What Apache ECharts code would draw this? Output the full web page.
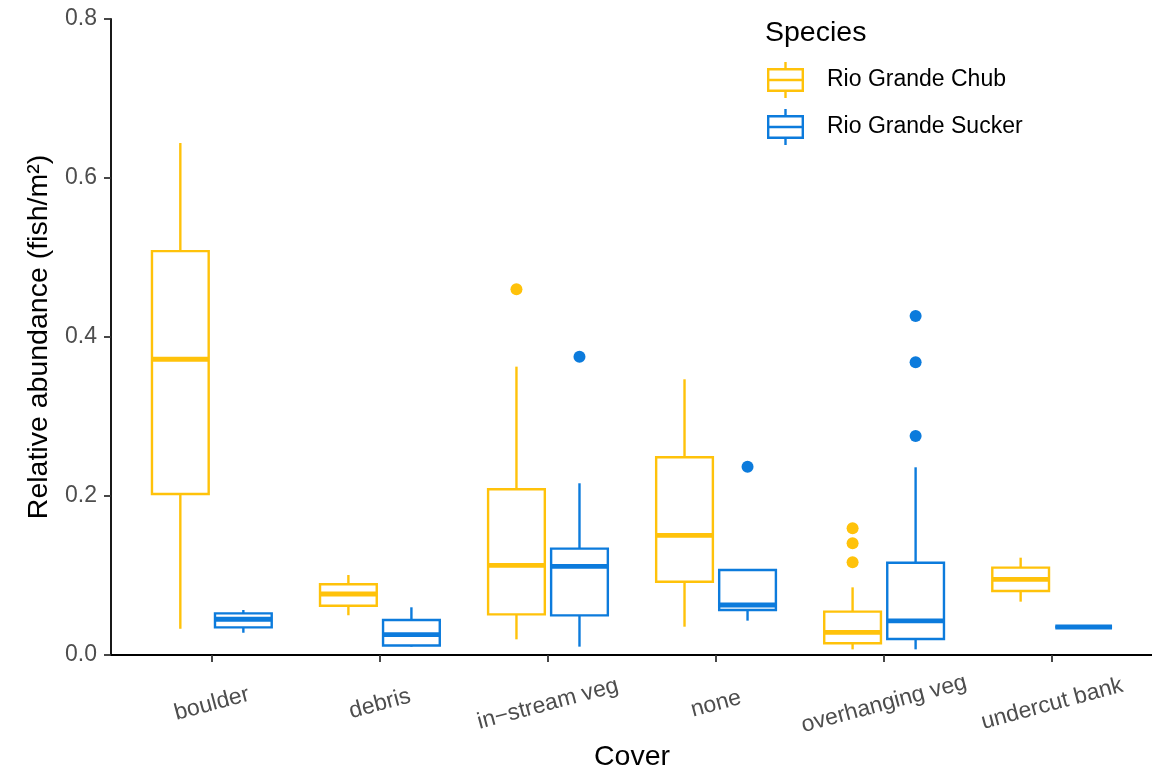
<!DOCTYPE html>
<html>
<head>
<meta charset="utf-8">
<script src="https://cdn.jsdelivr.net/npm/echarts@6/dist/echarts.min.js"></script>
<style>html,body{margin:0;padding:0;background:#fff}#chart{width:1152px;height:772px}</style>
</head>
<body>
<div id="chart"></div>
<script>
// ---- data ----
const categories = ['boulder', 'debris', 'in\u2212stream veg', 'none', 'overhanging veg', 'undercut bank'];
const seriesNames = ['Rio Grande Chub', 'Rio Grande Sucker'];
const yTicks = [0, 0.2, 0.4, 0.6, 0.8];
// [lower whisker, Q1, median, Q3, upper whisker]
const chubStats = [
  [0.033, 0.2025, 0.372, 0.508, 0.644],
  [0.050, 0.062, 0.0767, 0.089, 0.1006],
  [0.0197, 0.0511, 0.1128, 0.2084, 0.3627],
  [0.0356, 0.0922, 0.1505, 0.2487, 0.3468],
  [0.0071, 0.0147, 0.0285, 0.0545, 0.0851],
  [0.0671, 0.0805, 0.0952, 0.1099, 0.1224]
];
const suckerStats = [
  [0.028, 0.0348, 0.045, 0.0524, 0.0566],
  [0.0105, 0.012, 0.0256, 0.044, 0.060],
  [0.0105, 0.0499, 0.1115, 0.1338, 0.216],
  [0.0432, 0.0566, 0.0629, 0.1069, 0.1069],
  [0.0071, 0.0201, 0.0428, 0.1161, 0.2361],
  [0.0352, 0.0352, 0.0352, 0.0352, 0.0352]
];
// outliers: [category index, value]
const chubOutliers = [[2, 0.460], [4, 0.1593], [4, 0.1405], [4, 0.1166]];
const suckerOutliers = [[2, 0.3753], [3, 0.2369], [4, 0.4264], [4, 0.3681], [4, 0.2755]];

// ---- styling ----
const COLORS = ['#FFC20A', '#0C7BDC'];
const FONT = "'Liberation Sans', Arial, Helvetica, sans-serif";
const DODGE = 0.1875;      // centre offset of each box within a category
const BOX_W = 0.3375;      // box width in category units
const LINE_W = 2.4;
const MED_W = 4.8;

function boxSeries(name, stats, offset, color) {
  return {
    type: 'custom',
    name: name,
    itemStyle: { color: color },
    data: stats.map((s, i) => [i + 1 + offset].concat(s)),
    encode: { x: 0, y: [1, 2, 3, 4, 5] },
    z: 2,
    renderItem: function (params, api) {
      const x = api.value(0);
      const lo = api.coord([x, api.value(1)]);
      const q1 = api.coord([x, api.value(2)]);
      const md = api.coord([x, api.value(3)]);
      const q3 = api.coord([x, api.value(4)]);
      const hi = api.coord([x, api.value(5)]);
      const half = api.size([BOX_W, 0])[0] / 2;
      const st = { stroke: color, lineWidth: LINE_W, fill: null };
      return {
        type: 'group',
        children: [
          { type: 'line', shape: { x1: lo[0], y1: lo[1], x2: q1[0], y2: q1[1] }, style: st },
          { type: 'line', shape: { x1: q3[0], y1: q3[1], x2: hi[0], y2: hi[1] }, style: st },
          { type: 'rect', shape: { x: q3[0] - half, y: q3[1], width: half * 2, height: q1[1] - q3[1] },
            style: { stroke: color, lineWidth: LINE_W, fill: '#ffffff' } },
          { type: 'line', shape: { x1: md[0] - half, y1: md[1], x2: md[0] + half, y2: md[1] },
            style: { stroke: color, lineWidth: MED_W } }
        ]
      };
    }
  };
}

function outlierSeries(name, pts, offset, color) {
  return {
    type: 'scatter',
    name: name,
    symbol: 'circle',
    symbolSize: 12,
    itemStyle: { color: color, opacity: 1 },
    data: pts.map(p => [p[0] + 1 + offset, p[1]]),
    z: 3
  };
}

// legend key: box-and-whisker glyph (outline rect with hole, median, whiskers)
const KEY_ICON = 'path://M0,6H37V30H0Z M2.4,8.4V27.6H34.6V8.4Z M2.4,16.8H34.6V19.2H2.4Z ' +
  'M17.3,0H19.7V6H17.3Z M17.3,30H19.7V36H17.3Z';

const chart = echarts.init(document.getElementById('chart'), null, { renderer: 'canvas' });
chart.setOption({
  animation: false,
  color: COLORS,
  textStyle: { fontFamily: FONT },
  grid: { left: 111, top: 19, width: 1042, bottom: 117, containLabel: false, outerBoundsMode: 'none' },
  title: {
    text: 'Species', left: 760, top: 14,
    textStyle: { fontFamily: FONT, fontSize: 28.5, fontWeight: 'normal', color: '#000' }
  },
  legend: {
    orient: 'vertical', left: 767, top: 62, padding: 0,
    itemWidth: 37, itemHeight: 36, itemGap: 11,
    data: seriesNames.map(n => ({ name: n, icon: KEY_ICON })),
    itemStyle: { borderWidth: 0 },
    textStyle: { fontFamily: FONT, fontSize: 23, color: '#000', padding: [12, 0, 0, 18] },
    selectedMode: false
  },
  xAxis: {
    type: 'value', min: 0.4, max: 6.6,
    name: 'Cover', nameLocation: 'middle', nameGap: 86,
    nameTextStyle: { fontFamily: FONT, fontSize: 28.5, color: '#000' },
    axisLine: { show: true, lineStyle: { color: '#000', width: 1.8 } },
    axisTick: { show: true, customValues: categories.map((c, i) => i + 1), length: 7, lineStyle: { color: '#333', width: 1.8 } },
    axisLabel: {
      customValues: categories.map((c, i) => i + 1),
      formatter: v => categories[Math.round(v) - 1] || '',
      rotate: 15, align: 'center', verticalAlign: 'middle', margin: 49,
      fontFamily: FONT, fontSize: 23, color: '#4d4d4d'
    },
    splitLine: { show: false }
  },
  yAxis: {
    type: 'value', min: 0, max: 0.8, interval: 0.2,
    name: 'Relative abundance (fish/m\u00B2)', nameLocation: 'middle', nameGap: 54, nameRotate: 90,
    nameTextStyle: { fontFamily: FONT, fontSize: 28.5, color: '#000' },
    axisLine: { show: true, lineStyle: { color: '#000', width: 1.8 } },
    axisTick: { show: true, length: 7, lineStyle: { color: '#333', width: 1.8 } },
    axisLabel: {
      customValues: yTicks,
      formatter: v => v.toFixed(1), margin: 14,
      fontFamily: FONT, fontSize: 23, color: '#4d4d4d'
    },
    splitLine: { show: false }
  },
  series: [
    boxSeries(seriesNames[0], chubStats, -DODGE, COLORS[0]),
    boxSeries(seriesNames[1], suckerStats, DODGE, COLORS[1]),
    outlierSeries('Chub outliers', chubOutliers, -DODGE, COLORS[0]),
    outlierSeries('Sucker outliers', suckerOutliers, DODGE, COLORS[1])
  ]
});
</script>
</body>
</html>
